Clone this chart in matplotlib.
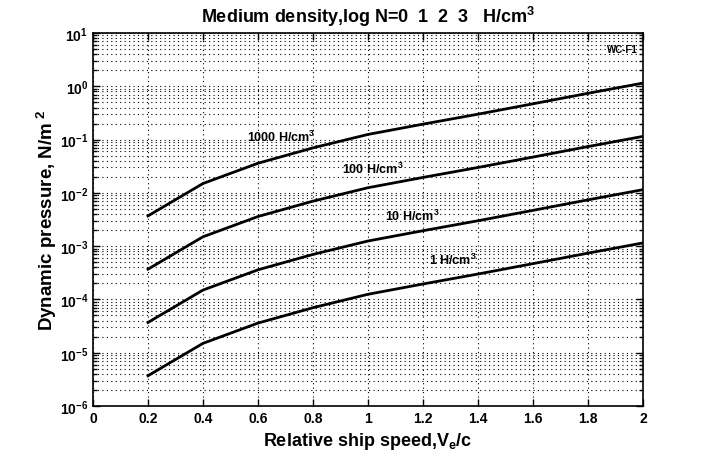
import matplotlib
matplotlib.use("Agg")
import matplotlib.pyplot as plt
from matplotlib.ticker import LogLocator, NullFormatter
from matplotlib import font_manager

speed = [0.2, 0.4, 0.6, 0.8, 1.0, 1.2, 1.4, 1.6, 1.8, 2.0]
p_1000 = [3.7e-3, 1.5e-2, 3.6e-2, 7.0e-2, 0.125, 0.195, 0.30, 0.47, 0.74, 1.15]
p_100 = [3.7e-4, 1.5e-3, 3.6e-3, 7.0e-3, 0.0125, 0.0195, 0.030, 0.047, 0.074, 0.115]
p_10 = [3.7e-5, 1.5e-4, 3.6e-4, 7.0e-4, 1.25e-3, 1.95e-3, 3.0e-3, 4.7e-3, 7.4e-3, 1.15e-2]
p_1 = [3.7e-6, 1.5e-5, 3.6e-5, 7.0e-5, 1.25e-4, 1.95e-4, 3.0e-4, 4.7e-4, 7.4e-4, 1.15e-3]
series = [p_1000, p_100, p_10, p_1]
curve_labels = ["1000 H/cm$^3$", "100 H/cm$^3$", "10 H/cm$^3$", "1 H/cm$^3$"]
label_pos = [(0.56, 0.117), (0.905, 0.029), (1.062, 3.7e-3), (1.222, 5.6e-4)]
xticks = [0, 0.2, 0.4, 0.6, 0.8, 1.0, 1.2, 1.4, 1.6, 1.8, 2.0]
xticklabels = ["0", "0.2", "0.4", "0.6", "0.8", "1", "1.2", "1.4", "1.6", "1.8", "2"]
yexp = [-6, -5, -4, -3, -2, -1, 0, 1]

fams = {f.name for f in font_manager.fontManager.ttflist}
fam = "Liberation Sans Narrow" if "Liberation Sans Narrow" in fams else "Liberation Sans"
plt.rcParams['font.family'] = [fam, 'DejaVu Sans']
plt.rcParams['mathtext.fontset'] = 'custom'
plt.rcParams['mathtext.rm'] = fam + ':bold'
plt.rcParams['mathtext.bf'] = fam + ':bold'
plt.rcParams['mathtext.it'] = fam + ':bold'

fig = plt.figure(figsize=(7.12, 4.6), dpi=100)
ax = fig.add_axes([0.1306, 0.1152, 0.7725, 0.8108])

for s in series:
    ax.plot(speed, s, color='black', lw=2.0)

for (x, y), t in zip(label_pos, curve_labels):
    ax.text(x, y, t, fontsize=9, fontweight='bold', ha='left', va='center')
ax.text(1.98, 5.0, "WC-F1", fontsize=7, fontweight='bold', ha='right', va='center')

ax.set_yscale('log')
ax.set_xlim(0, 2)
ax.set_ylim(1e-6, 1e1)
ax.set_xticks(xticks)
ax.set_xticklabels(xticklabels, fontsize=10, fontweight='bold')
ax.set_yticks([10.0**e for e in yexp])
ax.set_yticklabels([r"$\mathregular{10^{%d}}$" % e for e in yexp], fontsize=10, fontweight='bold')
ax.yaxis.set_minor_locator(LogLocator(base=10, subs=range(2, 10), numticks=20))
ax.yaxis.set_minor_formatter(NullFormatter())

ax.grid(True, which='major', linestyle=(0, (1, 3)), color='black', lw=0.8)
ax.grid(True, which='minor', axis='y', linestyle=(0, (1, 3)), color='black', lw=0.8)
ax.tick_params(which='both', direction='in', top=True, right=True, width=1)
ax.tick_params(which='major', length=5)
ax.tick_params(which='minor', length=3)
for sp in ax.spines.values():
    sp.set_linewidth(1.2)

ax.set_title("Medium density,log N=0  1  2  3   H/cm$^3$", fontsize=13, fontweight='bold', pad=8)
ax.set_xlabel("Relative ship speed,V$_e$/c", fontsize=13, fontweight='bold', labelpad=4)
ax.set_ylabel("Dynamic pressure, N/m$^{\\ 2}$", fontsize=13.5, fontweight='bold')
ax.yaxis.set_label_coords(-0.062, 0.5)

fig.savefig("out.png", dpi=100)
